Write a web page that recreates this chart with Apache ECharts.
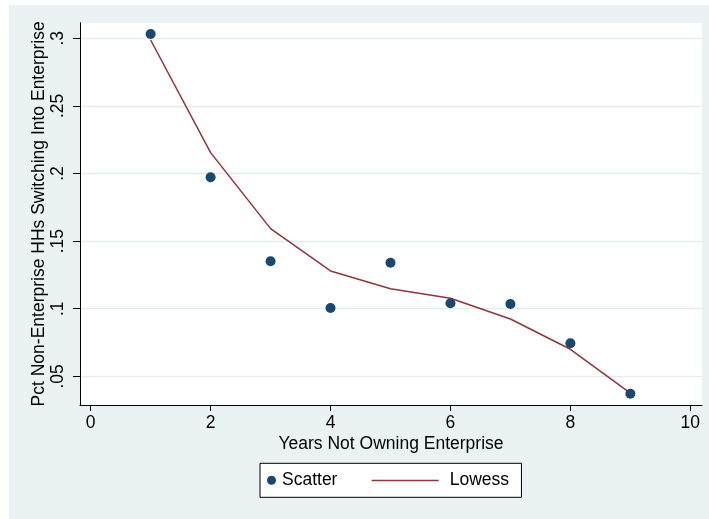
<!DOCTYPE html>
<html>
<head>
<meta charset="utf-8">
<title>Enterprise switching by years not owning</title>
<script src="https://cdn.jsdelivr.net/npm/echarts@6/dist/echarts.min.js"></script>
<style>
  html, body { margin: 0; padding: 0; background: #ffffff; overflow: hidden; }
  #chart { position: absolute; left: 9px; top: 5px; width: 700px; height: 514px; }
</style>
</head>
<body>
<div id="chart"></div>
<script>
// Years without an enterprise (x) and share of households that switch in (y)
const years = [1, 2, 3, 4, 5, 6, 7, 8, 9];
const scatterPct = [0.3032, 0.1972, 0.1351, 0.1005, 0.1340, 0.1040, 0.1035, 0.0744, 0.0371];
const lowessPct  = [0.2987, 0.2154, 0.1592, 0.1279, 0.1148, 0.1077, 0.0924, 0.0700, 0.0376];

// Tick positions shown on each axis
const xTicks = [0, 2, 4, 6, 8, 10];
const yTicks = [0.05, 0.1, 0.15, 0.2, 0.25, 0.3];

// Plot-region extents (the region is padded beyond the outer ticks)
const xRange = [-0.178, 10.195];
const yRange = [0.0288, 0.3115];

const FONT = '"Liberation Sans", Arial, Helvetica, sans-serif';
const NAVY = '#1a476f';
const MAROON = '#90353b';
const GRIDC = '#e4edef';

const pairs = (xs, ys) => xs.map((x, i) => [x, ys[i]]);
const yFmt = v => {
  const s = String(Math.round(v * 100) / 100);
  return s.replace(/^0\./, '.');
};

const chart = echarts.init(document.getElementById('chart'), null, { renderer: 'canvas' });

chart.setOption({
  backgroundColor: '#eaf2f3',
  animation: false,
  textStyle: { fontFamily: FONT },
  grid: {
    left: 71, right: 7, top: 17.7, bottom: 114,
    show: true, backgroundColor: '#ffffff', borderWidth: 0
  },
  xAxis: {
    type: 'value',
    min: xRange[0], max: xRange[1],
    name: 'Years Not Owning Enterprise',
    nameLocation: 'middle',
    nameGap: 30,
    nameMoveOverlap: false,
    nameTextStyle: { fontSize: 17.5, color: '#000', fontFamily: FONT },
    axisLine: { show: true, onZero: false, lineStyle: { color: '#000', width: 1 } },
    axisTick: { show: true, inside: false, length: 6, customValues: xTicks,
                lineStyle: { color: '#000', width: 1 } },
    axisLabel: { show: true, customValues: xTicks, margin: 9, fontSize: 17.5,
                 color: '#000', fontFamily: FONT, formatter: v => String(v) },
    splitLine: { show: false }
  },
  yAxis: {
    type: 'value',
    min: yRange[0], max: yRange[1],
    name: 'Pct Non-Enterprise HHs Switching Into Enterprise',
    nameLocation: 'middle',
    nameGap: 32,
    nameMoveOverlap: false,
    nameRotate: 90,
    nameTextStyle: { fontSize: 17.5, color: '#000', fontFamily: FONT },
    axisLine: { show: true, onZero: false, lineStyle: { color: '#000', width: 1 } },
    axisTick: { show: true, inside: false, length: 7, customValues: yTicks,
                lineStyle: { color: '#000', width: 1 } },
    axisLabel: { show: true, customValues: yTicks, margin: 13, rotate: 90,
                 fontSize: 17.5, color: '#000', fontFamily: FONT, formatter: yFmt },
    splitLine: { show: true, lineStyle: { color: GRIDC, width: 1.3 } }
  },
  legend: [
    {
      data: ['Scatter'],
      left: 251, top: 458.3,
      orient: 'horizontal',
      backgroundColor: '#ffffff',
      borderColor: '#000', borderWidth: 1,
      padding: [8, 184, 8, 7],
      itemWidth: 9, itemHeight: 9, itemGap: 6,
      textStyle: { fontSize: 17.5, color: '#000', fontFamily: FONT, padding: [0, 0, 0, 1] },
      selectedMode: false
    },
    {
      data: [{ name: 'Lowess', icon: 'rect' }],
      left: 362.7, top: 466.5,
      z: 10,
      padding: 0,
      itemWidth: 67, itemHeight: 1.5,
      textStyle: { fontSize: 17.5, color: '#000', fontFamily: FONT, padding: [0, 0, 0, 6] },
      selectedMode: false
    }
  ],
  series: [
    {
      name: 'Lowess',
      type: 'line',
      data: pairs(years, lowessPct),
      symbol: 'none',
      lineStyle: { color: MAROON, width: 1.5 },
      itemStyle: { color: MAROON },
      z: 2
    },
    {
      name: 'Scatter',
      type: 'scatter',
      data: pairs(years, scatterPct),
      symbol: 'circle',
      symbolSize: 10,
      itemStyle: { color: NAVY, opacity: 1 },
      z: 3
    }
  ]
});
</script>
</body>
</html>
